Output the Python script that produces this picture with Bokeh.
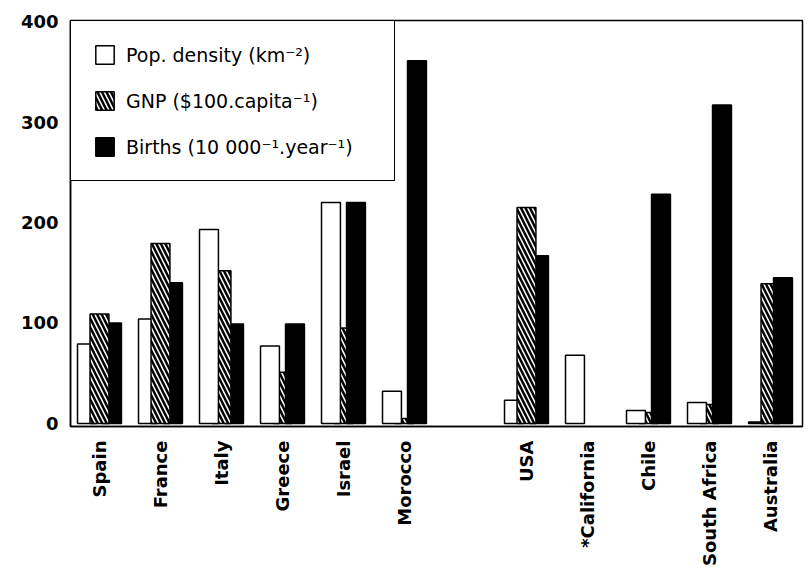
import math
from bokeh.plotting import figure
from bokeh.models import ColumnDataSource, Range1d, FixedTicker, Legend, LegendItem
from bokeh.embed import file_html
from bokeh.resources import INLINE

# ---- data ----
countries = ["Spain", "France", "Italy", "Greece", "Israel", "Morocco",
             "USA", "*California", "Chile", "South Africa", "Australia"]
slots = [0, 1, 2, 3, 4, 5, 7, 8, 9, 10, 11]
pop_density = [79, 104, 193, 77, 220, 32, 23, 68, 13, 21, 1.5]
gnp = [109, 179, 152, 51, 95, 5, 215, None, 11, 19, 139]
births = [100, 140, 99, 99, 220, 361, 167, None, 228, 317, 145]
y_ticks = [0, 100, 200, 300, 400]
series_labels = ["Pop. density (km\u207b\u00b2)",
                 "GNP ($100.capita\u207b\u00b9)",
                 "Births (10 000\u207b\u00b9.year\u207b\u00b9)"]

# ---- styling ----
series_fill = ["white", "white", "black"]
series_hatch = [" ", "\\", " "]
offsets = [-0.205, 0.0, 0.205]
bar_w = 0.31
FONT = "DejaVu Sans"

p = figure(width=809, height=568, output_backend="svg", toolbar_location=None,
           x_range=Range1d(-0.475, 11.525), y_range=Range1d(-3, 401),
           min_border_left=70, min_border_right=7, min_border_top=20,
           min_border_bottom=142)
p.background_fill_color = "white"
p.border_fill_color = "white"
p.outline_line_color = "black"
p.outline_line_width = 1.5
p.outline_line_alpha = 1.0
p.xgrid.visible = False
p.ygrid.visible = False

# bars: within each country the taller bar is drawn on top
series_vals = [pop_density, gnp, births]
layers = {0: [], 1: [], 2: []}
for i, c in enumerate(countries):
    vals = [(s, series_vals[s][i]) for s in range(3) if series_vals[s][i] is not None]
    vals.sort(key=lambda t: t[1])
    for rank, (s, v) in enumerate(vals):
        layers[rank].append(dict(x=slots[i] + offsets[s], top=v, series=s,
                                 fill=series_fill[s], hatch=series_hatch[s]))

renderers = []
for rank in range(3):
    rows = layers[rank]
    src = ColumnDataSource(dict(x=[r["x"] for r in rows], top=[r["top"] for r in rows],
                                fill=[r["fill"] for r in rows], hatch=[r["hatch"] for r in rows]))
    r = p.vbar(x="x", top="top", bottom=0, width=bar_w, source=src,
               fill_color="fill", line_color="black", line_width=1.5,
               hatch_pattern="hatch", hatch_color="black", hatch_scale=9, hatch_weight=2.5)
    renderers.append(r)

# legend entries point at a bar of each series
items = []
for s in range(3):
    found = None
    for rank in range(3):
        for idx, row in enumerate(layers[rank]):
            if row["series"] == s:
                found = (rank, idx)
                break
        if found:
            break
    items.append(LegendItem(label=series_labels[s], renderers=[renderers[found[0]]],
                            index=found[1]))
legend = Legend(items=items, location="top_left", margin=0, padding=22, spacing=23,
                glyph_width=23, glyph_height=23, label_standoff=10,
                label_width=246, label_height=23,
                label_text_font=FONT, label_text_font_size="19px",
                label_text_color="black",
                border_line_color="black", border_line_width=1.5, border_line_alpha=1.0,
                background_fill_color="white", background_fill_alpha=1.0)
p.add_layout(legend)

# axes
p.yaxis.ticker = FixedTicker(ticks=y_ticks)
p.yaxis.major_label_text_font = FONT
p.yaxis.major_label_text_font_style = "bold"
p.yaxis.major_label_text_font_size = "18px"
p.yaxis.major_label_text_color = "black"
p.yaxis.major_label_standoff = 6
p.yaxis.major_tick_line_color = None
p.yaxis.minor_tick_line_color = None
p.yaxis.axis_line_width = 1.5

p.xaxis.ticker = FixedTicker(ticks=slots)
p.xaxis.major_label_overrides = {s: c for s, c in zip(slots, countries)}
p.xaxis.major_label_orientation = math.pi / 2
p.xaxis.major_label_text_font = FONT
p.xaxis.major_label_text_font_style = "bold"
p.xaxis.major_label_text_font_size = "18px"
p.xaxis.major_label_text_color = "black"
p.xaxis.major_label_standoff = 8
p.xaxis.major_tick_line_color = None
p.xaxis.minor_tick_line_color = None
p.xaxis.axis_line_width = 1.5

open("out.html", "w").write(file_html(p, INLINE))
